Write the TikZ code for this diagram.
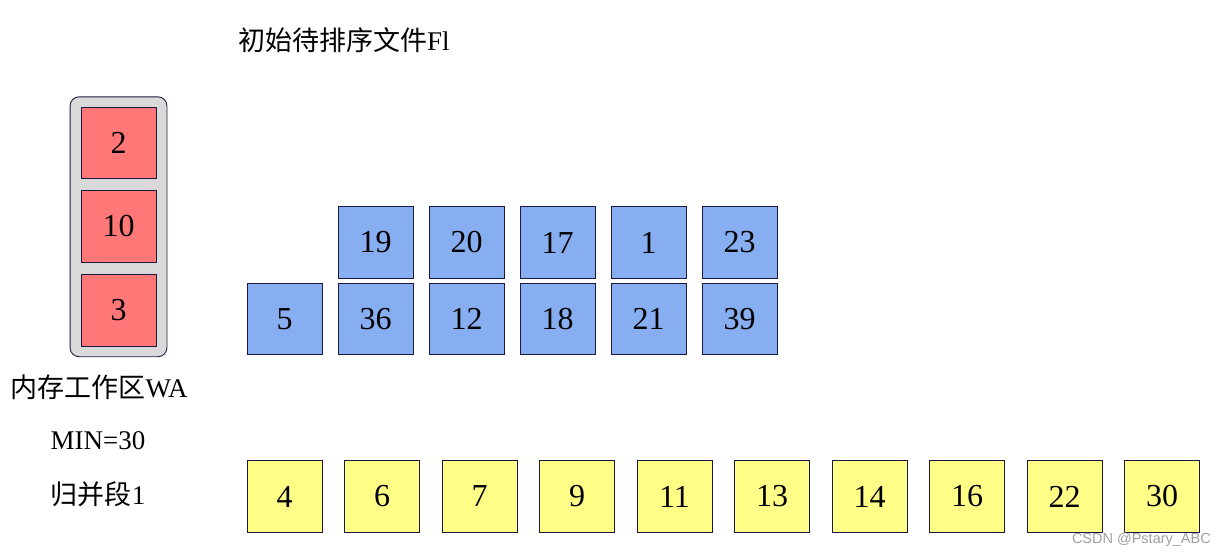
\documentclass[tikz,border=0pt]{standalone}
\usepackage{fontspec}
\setmainfont{Liberation Serif}
\newfontfamily\cjk{Noto Sans CJK SC}
\newfontfamily\markfont{Liberation Sans}
\usetikzlibrary{positioning,fit,backgrounds}
\definecolor{edgenavy}{RGB}{26,26,64}
\definecolor{recred}{RGB}{255,119,119}
\definecolor{recblue}{RGB}{136,174,242}
\definecolor{recyellow}{RGB}{255,255,136}
\definecolor{wagray}{RGB}{217,217,217}

\begin{document}
\begin{tikzpicture}[%
        x=1pt, y=-1pt,
        every node/.style={inner sep=0pt},
        rec/.style={draw=edgenavy, line width=0.9pt, minimum width=75pt,
          minimum height=71.5pt, font=\fontsize{32}{32}\selectfont},
        redrec/.style={rec, fill=recred},
        bluerec/.style={rec, fill=recblue},
        yellowrec/.style={rec, fill=recyellow},
        wabox/.style={draw=edgenavy, line width=0.9pt, fill=wagray,
          rounded corners=9pt, inner xsep=10.5pt, inner ysep=10pt},
        caption/.style={font=\fontsize{27}{27}\selectfont}
      ]
      \useasboundingbox (0,0) rectangle (1226,557);
      % work area
      \node [redrec] (r1) at (118.5,143) {2};
      \node [redrec] (r2) at (118.5,226.5) {10};
      \node [redrec] (r3) at (118.5,310.5) {3};
      \begin{scope}[on background layer]
        \node [wabox, fit=(r1)(r3)] (wa) {};
      \end{scope}
      % input file
      \node [bluerec] (b0) at (284.5,319) {5};
      \foreach \up/\down [count=\i] in {19/36,20/12,17/18,1/21,23/39} {
        \node [bluerec] (t\i) at ({284.5+91*\i},242.5) {\up};
        \node [bluerec] (b\i) at ({284.5+91*\i},319) {\down};
      }
      % run 1
      \foreach \v [count=\i from 0] in {4,6,7,9,11,13,14,16,22,30}
        \node [yellowrec] (y\i) at ({284.5+97.5*\i},496.5) {\v};
      % labels
      \node [caption, anchor=west] (fi) at (238,40) {{\cjk 初始待排序文件}Fl};
      \node [caption] (walabel) at (99,387) {{\cjk 内存工作区}WA};
      \node [caption] (min) at (98,441) {MIN=30};
      \node [caption] (run) at (98,494) {{\cjk 归并段}1};
      \node [anchor=east, text=gray!75, font=\markfont\fontsize{14.5}{14.5}\selectfont]
        (mark) at (1211,540) {CSDN @Pstary\_ABC};
    \end{tikzpicture}
\end{document}
